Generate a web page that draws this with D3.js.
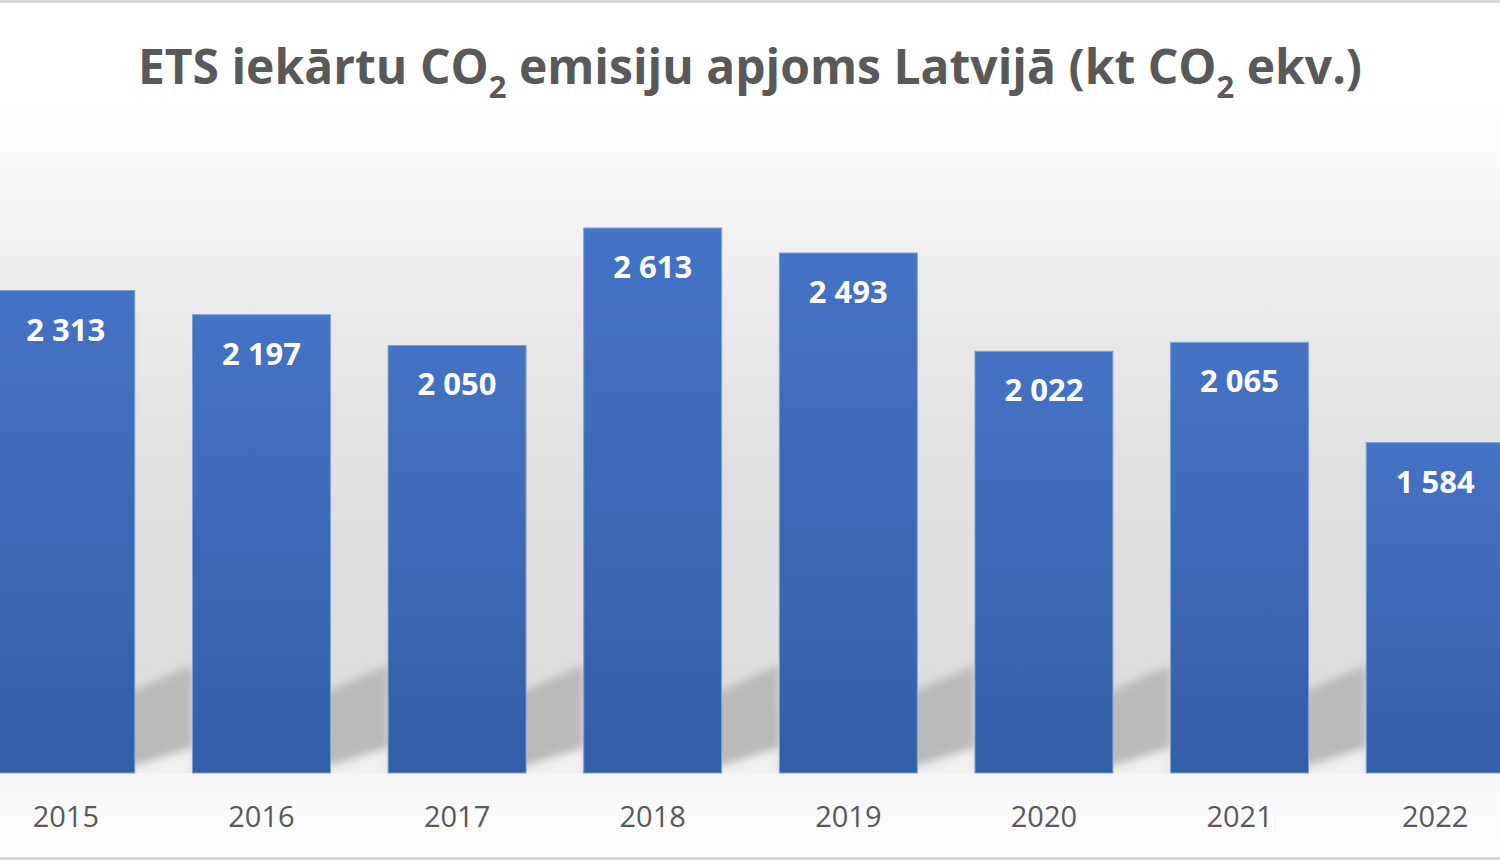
<!DOCTYPE html>
<html>
<head>
<meta charset="utf-8">
<script src="https://cdn.jsdelivr.net/npm/d3@7"></script>
<style>
  html, body { margin: 0; padding: 0; background: #fff; }
  svg { display: block; }
</style>
</head>
<body>
<div id="chart"></div>
<script>
// data
var years = ["2015", "2016", "2017", "2018", "2019", "2020", "2021", "2022"];
var emissions = [2313, 2197, 2050, 2613, 2493, 2022, 2065, 1584];

var w = 1500, h = 860;
var base = 773;

var svg = d3.select("#chart").append("svg")
    .attr("width", w)
    .attr("height", h);

var defs = svg.append("defs");

// background gradient (white -> light grey)
var bg = defs.append("linearGradient")
    .attr("id", "bgGrad")
    .attr("gradientUnits", "userSpaceOnUse")
    .attr("x1", 0).attr("y1", 100).attr("x2", 0).attr("y2", base);
bg.append("stop").attr("offset", "0").attr("stop-color", "#ffffff");
bg.append("stop").attr("offset", "0.3").attr("stop-color", "#ebebeb");
bg.append("stop").attr("offset", "0.55").attr("stop-color", "#e0e0e0");
bg.append("stop").attr("offset", "1").attr("stop-color", "#dcdcdc");

var bottomBg = defs.append("linearGradient")
    .attr("id", "bottomGrad")
    .attr("x1", 0).attr("y1", 0).attr("x2", 0).attr("y2", 1);
bottomBg.append("stop").attr("offset", "0").attr("stop-color", "#f6f6f6");
bottomBg.append("stop").attr("offset", "1").attr("stop-color", "#ffffff");

var barGrad = defs.append("linearGradient")
    .attr("id", "barGrad")
    .attr("x1", 0).attr("y1", 0).attr("x2", 0).attr("y2", 1);
barGrad.append("stop").attr("offset", "0").attr("stop-color", "#4573c5");
barGrad.append("stop").attr("offset", "1").attr("stop-color", "#335ea8");

defs.append("filter")
    .attr("id", "soft")
    .attr("x", "-50%").attr("y", "-50%").attr("width", "200%").attr("height", "200%")
    .append("feGaussianBlur").attr("stdDeviation", 4);

defs.append("clipPath").attr("id", "plotClip")
    .append("rect").attr("x", 0).attr("y", 0).attr("width", w).attr("height", base);

svg.append("rect")
    .attr("width", w).attr("height", base)
    .attr("fill", "url(#bgGrad)");
svg.append("rect")
    .attr("y", base).attr("width", w).attr("height", h - base)
    .attr("fill", "url(#bottomGrad)");

// scales
var x = d3.scaleBand()
    .domain(years)
    .range([-32, 1533])
    .paddingInner(0.295)
    .paddingOuter(0.1475);

var y = d3.scaleLinear()
    .domain([0, 3000])
    .range([base, base - 3000 * 545 / 2613]);

// soft shadows in the gaps between bars
var shadows = svg.append("g")
    .attr("clip-path", "url(#plotClip)")
    .append("g")
    .attr("filter", "url(#soft)");

years.slice(0, -1).forEach(function(yr, i) {
    var gl = x(yr) + x.bandwidth();
    var gr = x(years[i + 1]);
    shadows.append("polygon")
        .attr("points", [[gl - 6, base - 80], [gr, base - 108], [gr, base - 25], [gl - 6, base - 5]].join(" "))
        .attr("fill", "#bababa");
    shadows.append("polygon")
        .attr("points", [[gl - 6, base - 5], [gr, base - 25], [gr, base + 10], [gl - 6, base + 10]].join(" "))
        .attr("fill", "#f0f0f0");
});

// bars
svg.append("g").selectAll("rect")
    .data(emissions)
    .enter().append("rect")
    .attr("x", function(d, i) { return x(years[i]); })
    .attr("y", function(d) { return y(d); })
    .attr("width", x.bandwidth())
    .attr("height", function(d) { return y(0) - y(d); })
    .attr("fill", "url(#barGrad)")
    .attr("stroke", "#7f9fd6")
    .attr("stroke-width", 1);

// value labels
svg.append("g").selectAll("text")
    .data(emissions)
    .enter().append("text")
    .attr("x", function(d, i) { return x(years[i]) + x.bandwidth() / 2; })
    .attr("y", function(d) { return y(d) + 50; })
    .attr("text-anchor", "middle")
    .style("font-family", "'Open Sans', sans-serif")
    .style("font-weight", "bold")
    .style("font-size", "31px")
    .style("fill", "#ffffff")
    .text(function(d) { return d3.format(",")(d).replace(",", " "); });

// year labels
svg.append("g").selectAll("text")
    .data(years)
    .enter().append("text")
    .attr("x", function(d) { return x(d) + x.bandwidth() / 2; })
    .attr("y", 827)
    .attr("text-anchor", "middle")
    .style("font-family", "'Open Sans', sans-serif")
    .style("font-size", "29px")
    .style("fill", "#595959")
    .text(function(d) { return d; });

// title
var title = svg.append("text")
    .attr("x", w / 2)
    .attr("y", 84)
    .attr("text-anchor", "middle")
    .style("font-family", "'Open Sans', sans-serif")
    .style("font-weight", "bold")
    .style("font-size", "48px")
    .style("fill", "#595959");
title.append("tspan").text("ETS iekārtu CO");
title.append("tspan").attr("dy", 14).style("font-size", "31px").text("2");
title.append("tspan").attr("dy", -14).text(" emisiju apjoms Latvijā (kt CO");
title.append("tspan").attr("dy", 14).style("font-size", "31px").text("2");
title.append("tspan").attr("dy", -14).text(" ekv.)");

// frame lines top and bottom
svg.append("rect").attr("x", 0).attr("y", 0).attr("width", w).attr("height", 3).attr("fill", "#d9d9d9");
svg.append("rect").attr("x", 0).attr("y", h - 3).attr("width", w).attr("height", 3).attr("fill", "#d9d9d9");
</script>
</body>
</html>
